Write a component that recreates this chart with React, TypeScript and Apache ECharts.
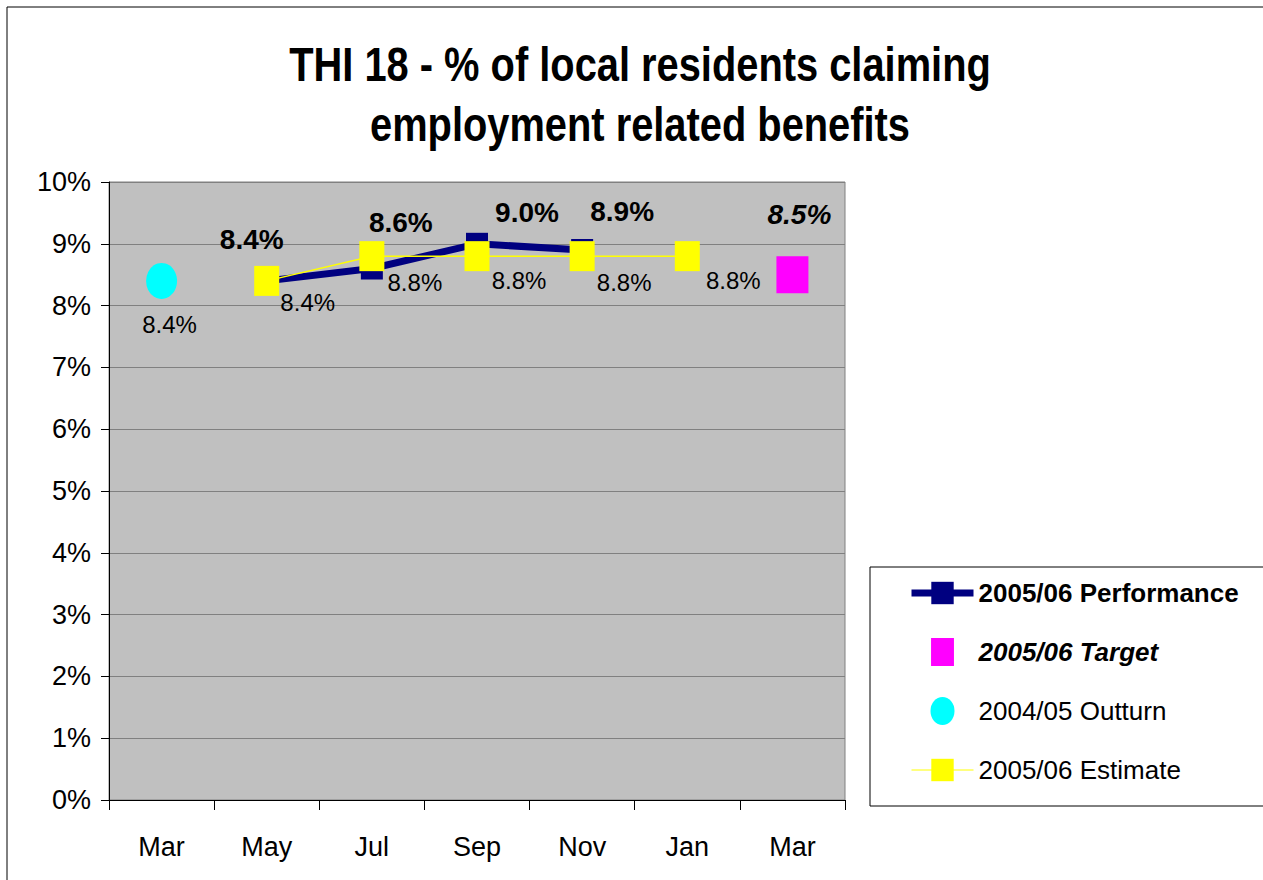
import React, { useEffect, useRef } from "react";
import * as echarts from "echarts";

const months = ["Mar", "May", "Jul", "Sep", "Nov", "Jan", "Mar"];
const performance = [null, 8.4, 8.6, 9.0, 8.9, null, null];
const estimate = [null, 8.4, 8.8, 8.8, 8.8, 8.8, null];
const outturn = [8.4, null, null, null, null, null, null];
const target = [null, null, null, null, null, null, 8.5];
const yTicks = [0, 1, 2, 3, 4, 5, 6, 7, 8, 9, 10];

const titleLines = ["THI 18 - % of local residents claiming", "employment related benefits"];
const seriesNames = ["2005/06 Performance", "2005/06 Target", "2004/05 Outturn", "2005/06 Estimate"];

// label placement (pixel offsets from marker centre)
const perfOffsets = [null, [-15, -41], [29, -46], [50, -31], [40, -38], null, null];
const estOffsets = [null, [41, 22], [43, 26], [42, 24], [42, 26], [46, 24], null];

const FONT = "'Liberation Sans', Arial, sans-serif";
const fmt = (v: number) => v.toFixed(1) + "%";

export default function App() {
  const ref = useRef<HTMLDivElement>(null);
  useEffect(() => {
    if (!ref.current) return;
    const chart = echarts.init(ref.current, null, { renderer: "svg" });

    const mk = (v: number | null, offset: any, bold: boolean, italic: boolean) =>
      v == null
        ? null
        : {
            value: v,
            label: {
              show: true,
              position: "inside",
              offset,
              formatter: fmt(v),
              fontFamily: FONT,
              fontWeight: bold ? "bold" : "normal",
              fontStyle: italic ? "italic" : "normal",
              fontSize: bold ? 28 : 24,
              color: "#000",
            },
          };

    const perfData = performance.map((v, i) => mk(v, perfOffsets[i], true, false));
    const estData = estimate.map((v, i) => mk(v, estOffsets[i], false, false));
    const outData = outturn.map((v) => mk(v, [8, 44], false, false));
    const tgtData = target.map((v) => mk(v, [7, -60], true, true));

    chart.setOption({
      animation: false,
      backgroundColor: "#fff",
      textStyle: { fontFamily: FONT },
      graphic: [
        {
          type: "rect",
          shape: { x: 7, y: 7, width: 1300, height: 1000 },
          style: { fill: "none", stroke: "#000", lineWidth: 1 },
          silent: true,
          z: -1,
        },
        ...titleLines.map((t, i) => ({
          type: "text",
          x: 640,
          y: 64 + i * 60,
          scaleX: 0.83,
          silent: true,
          style: {
            text: t,
            fontFamily: FONT,
            fontSize: 48,
            fontWeight: "bold",
            fill: "#000",
            textAlign: "center",
            textVerticalAlign: "middle",
          },
        })),
      ],
      legend: {
        orient: "vertical",
        left: 870,
        top: 567,
        padding: [11, 30, 21, 38],
        backgroundColor: "#fff",
        borderColor: "#000",
        borderWidth: 1,
        itemWidth: 62,
        itemHeight: 28,
        itemGap: 29,
        selectedMode: false,
        textStyle: { fontFamily: FONT, fontSize: 26, lineHeight: 30, color: "#000" },
        data: [
          {
            name: seriesNames[0],
            textStyle: { fontWeight: "bold" },
            lineStyle: { width: 7 },
          },
          {
            name: seriesNames[1],
            icon: "path://M0 0 H18 V22 H0 Z",
            textStyle: { fontWeight: "bold", fontStyle: "italic" },
          },
          {
            name: seriesNames[2],
            icon: "path://M9 0 A9 10.5 0 1 1 9 21 A9 10.5 0 1 1 9 0 Z",
          },
          {
            name: seriesNames[3],
            lineStyle: { width: 1 },
          },
        ],
      },
      grid: {
        left: 109,
        right: 418,
        top: 182,
        bottom: 80,
        show: true,
        backgroundColor: "#C0C0C0",
        borderColor: "#808080",
        borderWidth: 1,
      },
      xAxis: {
        type: "category",
        data: months,
        boundaryGap: true,
        axisLine: { show: true, lineStyle: { color: "#000", width: 1 } },
        axisTick: { show: true, length: 10, lineStyle: { color: "#000" } },
        axisLabel: { fontFamily: FONT, fontSize: 27, color: "#000", margin: 33 },
        splitLine: { show: false },
      },
      yAxis: {
        type: "value",
        min: yTicks[0],
        max: yTicks[yTicks.length - 1],
        interval: 1,
        axisLine: { show: true, lineStyle: { color: "#000", width: 1 } },
        axisTick: { show: true, length: 8, lineStyle: { color: "#000" } },
        axisLabel: {
          fontFamily: FONT,
          fontSize: 27,
          color: "#000",
          margin: 18,
          formatter: "{value}%",
        },
        splitLine: { show: true, lineStyle: { color: "#808080", width: 1 } },
      },
      series: [
        {
          name: seriesNames[0],
          type: "line",
          data: perfData,
          color: "#000080",
          lineStyle: { color: "#000080", width: 7 },
          itemStyle: { color: "#000080" },
          symbol: "rect",
          symbolSize: 22,
          showAllSymbol: true,
          z: 2,
        },
        {
          name: seriesNames[1],
          type: "scatter",
          data: tgtData,
          color: "#FF00FF",
          itemStyle: { color: "#FF00FF", opacity: 1 },
          symbol: "rect",
          symbolSize: [32, 37],
          z: 3,
        },
        {
          name: seriesNames[2],
          type: "scatter",
          data: outData,
          color: "#00FFFF",
          itemStyle: { color: "#00FFFF", opacity: 1 },
          symbol: "circle",
          symbolSize: [31, 36],
          z: 3,
        },
        {
          name: seriesNames[3],
          type: "line",
          data: estData,
          color: "#FFFF00",
          lineStyle: { color: "#FFFF00", width: 1.5 },
          itemStyle: { color: "#FFFF00" },
          symbol: "rect",
          symbolSize: [25, 30],
          showAllSymbol: true,
          z: 4,
        },
      ],
    });
    return () => chart.dispose();
  }, []);

  return (
    <div
      ref={ref}
      style={{ position: "absolute", left: 0, top: 0, width: 1263, height: 880 }}
    />
  );
}
